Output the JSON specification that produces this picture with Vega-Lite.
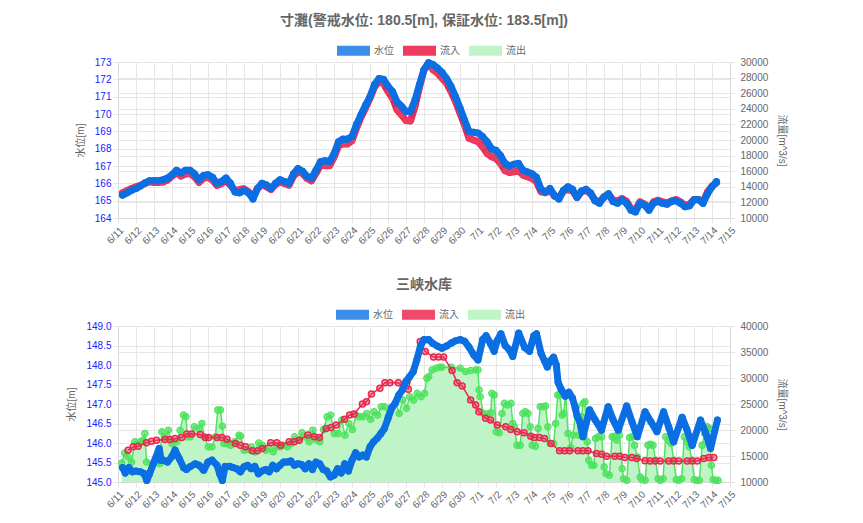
{
  "$schema": "https://vega.github.io/schema/vega-lite/v6.json",
  "padding": {"left": 66, "top": 13, "right": 5, "bottom": 5},
  "config": {
    "font": "Liberation Sans, Noto Sans CJK JP",
    "view": {"stroke": "#d9d9d9"},
    "title": {"fontSize": 14, "fontWeight": "bold", "color": "#666666", "offset": 5},
    "axis": {
      "labelFontSize": 10, "labelColor": "#666666",
      "titleFontSize": 10, "titleColor": "#666666", "titleFontWeight": "normal",
      "gridColor": "#e6e6e6", "domainColor": "#d9d9d9", "tickColor": "#e6e6e6", "tickSize": 5
    },
    "legend": {
      "orient": "none", "direction": "horizontal", "title": null,
      "symbolType": "M-1,-0.3H1V0.3H-1Z", "symbolSize": 1089, "symbolOpacity": 1,
      "labelFontSize": 10, "labelColor": "#666666", "labelOffset": 3, "columnPadding": 8,
      "legendY": -29
    }
  },
  "datasets": {
    "top_level": [
      {"t":0.25,"v":165.32},{"t":0.5,"v":165.45},{"t":0.75,"v":165.6},{"t":1,"v":165.7},{"t":1.25,"v":165.85},{"t":1.5,"v":166.03},{"t":1.75,"v":166.15},{"t":2,"v":166.15},{"t":2.25,"v":166.15},{"t":2.5,"v":166.2},{"t":2.75,"v":166.3},{"t":3,"v":166.5},{"t":3.25,"v":166.75},{"t":3.5,"v":166.6},{"t":3.75,"v":166.75},{"t":4,"v":166.75},{"t":4.25,"v":166.55},{"t":4.5,"v":166.2},{"t":4.75,"v":166.45},{"t":5,"v":166.5},{"t":5.25,"v":166.35},{"t":5.5,"v":166.0},{"t":5.75,"v":166.1},{"t":6,"v":166.3},{"t":6.25,"v":166.0},{"t":6.5,"v":165.5},{"t":6.75,"v":165.45},{"t":7,"v":165.6},{"t":7.25,"v":165.45},{"t":7.5,"v":165.1},{"t":7.75,"v":165.7},{"t":8,"v":166.0},{"t":8.25,"v":165.9},{"t":8.5,"v":165.7},{"t":8.75,"v":166.0},{"t":9,"v":166.2},{"t":9.25,"v":166.1},{"t":9.5,"v":166.0},{"t":9.75,"v":166.55},{"t":10,"v":166.85},{"t":10.25,"v":166.7},{"t":10.5,"v":166.4},{"t":10.75,"v":166.3},{"t":11,"v":166.75},{"t":11.25,"v":167.25},{"t":11.5,"v":167.3},{"t":11.75,"v":167.25},{"t":12,"v":167.7},{"t":12.25,"v":168.4},{"t":12.5,"v":168.55},{"t":12.75,"v":168.55},{"t":13,"v":168.7},{"t":13.25,"v":169.4},{"t":13.5,"v":169.95},{"t":13.75,"v":170.5},{"t":14,"v":171.0},{"t":14.25,"v":171.7},{"t":14.5,"v":172.05},{"t":14.75,"v":172.0},{"t":15,"v":171.6},{"t":15.25,"v":171.3},{"t":15.5,"v":170.7},{"t":15.75,"v":170.45},{"t":16,"v":170.15},{"t":16.25,"v":170.15},{"t":16.5,"v":170.8},{"t":16.75,"v":171.7},{"t":17,"v":172.55},{"t":17.25,"v":172.95},{"t":17.5,"v":172.85},{"t":17.75,"v":172.65},{"t":18,"v":172.4},{"t":18.25,"v":172.05},{"t":18.5,"v":171.6},{"t":18.75,"v":171.0},{"t":19,"v":170.35},{"t":19.25,"v":169.65},{"t":19.5,"v":169.0},{"t":19.75,"v":168.95},{"t":20,"v":168.9},{"t":20.25,"v":168.7},{"t":20.5,"v":168.4},{"t":20.75,"v":168.0},{"t":21,"v":167.9},{"t":21.25,"v":167.6},{"t":21.5,"v":167.15},{"t":21.75,"v":167.0},{"t":22,"v":167.1},{"t":22.25,"v":167.15},{"t":22.5,"v":166.75},{"t":22.75,"v":166.65},{"t":23,"v":166.55},{"t":23.25,"v":166.35},{"t":23.5,"v":165.65},{"t":23.75,"v":165.5},{"t":24,"v":165.7},{"t":24.25,"v":165.3},{"t":24.5,"v":165.1},{"t":24.75,"v":165.6},{"t":25,"v":165.8},{"t":25.25,"v":165.65},{"t":25.5,"v":165.2},{"t":25.75,"v":165.55},{"t":26,"v":165.65},{"t":26.25,"v":165.45},{"t":26.5,"v":165.0},{"t":26.75,"v":164.85},{"t":27,"v":165.2},{"t":27.25,"v":165.4},{"t":27.5,"v":164.95},{"t":27.75,"v":164.85},{"t":28,"v":165.05},{"t":28.25,"v":164.85},{"t":28.5,"v":164.45},{"t":28.75,"v":164.35},{"t":29,"v":164.85},{"t":29.25,"v":164.75},{"t":29.5,"v":164.45},{"t":29.75,"v":164.85},{"t":30,"v":164.95},{"t":30.25,"v":164.85},{"t":30.5,"v":164.8},{"t":30.75,"v":164.95},{"t":31,"v":165.0},{"t":31.25,"v":164.85},{"t":31.5,"v":164.65},{"t":31.75,"v":164.7},{"t":32,"v":165.05},{"t":32.25,"v":165.05},{"t":32.5,"v":164.85},{"t":32.75,"v":165.4},{"t":33,"v":165.8},{"t":33.25,"v":166.1}
    ],
    "top_in": [
      {"t":0.25,"q":13250},{"t":0.5,"q":13500},{"t":0.75,"q":13780},{"t":1,"q":14000},{"t":1.25,"q":14200},{"t":1.5,"q":14430},{"t":1.75,"q":14640},{"t":2,"q":14560},{"t":2.25,"q":14560},{"t":2.5,"q":14600},{"t":2.75,"q":14860},{"t":3,"q":15370},{"t":3.25,"q":15800},{"t":3.5,"q":15370},{"t":3.75,"q":15630},{"t":4,"q":15710},{"t":4.25,"q":15280},{"t":4.5,"q":14560},{"t":4.75,"q":15070},{"t":5,"q":15200},{"t":5.25,"q":14860},{"t":5.5,"q":14170},{"t":5.75,"q":14430},{"t":6,"q":14770},{"t":6.25,"q":14210},{"t":6.5,"q":13480},{"t":6.75,"q":13650},{"t":7,"q":13740},{"t":7.25,"q":13350},{"t":7.5,"q":12710},{"t":7.75,"q":13780},{"t":8,"q":14300},{"t":8.25,"q":14000},{"t":8.5,"q":13650},{"t":8.75,"q":14300},{"t":9,"q":14640},{"t":9.25,"q":14430},{"t":9.5,"q":14210},{"t":9.75,"q":15370},{"t":10,"q":15930},{"t":10.25,"q":15710},{"t":10.5,"q":15070},{"t":10.75,"q":14770},{"t":11,"q":15710},{"t":11.25,"q":16790},{"t":11.5,"q":16700},{"t":11.75,"q":16700},{"t":12,"q":17770},{"t":12.25,"q":19270},{"t":12.5,"q":19490},{"t":12.75,"q":19490},{"t":13,"q":19920},{"t":13.25,"q":21500},{"t":13.5,"q":22920},{"t":13.75,"q":24080},{"t":14,"q":25370},{"t":14.25,"q":26780},{"t":14.5,"q":27510},{"t":14.75,"q":27210},{"t":15,"q":26220},{"t":15.25,"q":25370},{"t":15.5,"q":23870},{"t":15.75,"q":23220},{"t":16,"q":22490},{"t":16.25,"q":22450},{"t":16.5,"q":24290},{"t":16.75,"q":26780},{"t":17,"q":29010},{"t":17.25,"q":29900},{"t":17.5,"q":29010},{"t":17.75,"q":28580},{"t":18,"q":27940},{"t":18.25,"q":27300},{"t":18.5,"q":26220},{"t":18.75,"q":24940},{"t":19,"q":23440},{"t":19.25,"q":21930},{"t":19.5,"q":20220},{"t":19.75,"q":20000},{"t":20,"q":19790},{"t":20.25,"q":19150},{"t":20.5,"q":18290},{"t":20.75,"q":17860},{"t":21,"q":17640},{"t":21.25,"q":17000},{"t":21.5,"q":16060},{"t":21.75,"q":15840},{"t":22,"q":15930},{"t":22.25,"q":16060},{"t":22.5,"q":15500},{"t":22.75,"q":15290},{"t":23,"q":15070},{"t":23.25,"q":14640},{"t":23.5,"q":13350},{"t":23.75,"q":13230},{"t":24,"q":13570},{"t":24.25,"q":12800},{"t":24.5,"q":12630},{"t":24.75,"q":13480},{"t":25,"q":13650},{"t":25.25,"q":13480},{"t":25.5,"q":12630},{"t":25.75,"q":13350},{"t":26,"q":13570},{"t":26.25,"q":13140},{"t":26.5,"q":12280},{"t":26.75,"q":12070},{"t":27,"q":12710},{"t":27.25,"q":13050},{"t":27.5,"q":12280},{"t":27.75,"q":12200},{"t":28,"q":12500},{"t":28.25,"q":12150},{"t":28.5,"q":11210},{"t":28.75,"q":11080},{"t":29,"q":12070},{"t":29.25,"q":11770},{"t":29.5,"q":11210},{"t":29.75,"q":12070},{"t":30,"q":12280},{"t":30.25,"q":12070},{"t":30.5,"q":11940},{"t":30.75,"q":12200},{"t":31,"q":12370},{"t":31.25,"q":12070},{"t":31.5,"q":11640},{"t":31.75,"q":11770},{"t":32,"q":12370},{"t":32.25,"q":12370},{"t":32.5,"q":12070},{"t":32.75,"q":13350},{"t":33,"q":14080},{"t":33.25,"q":14510}
    ],
    "bot_level": [
      {"t":0.25,"v":145.37},{"t":0.4,"v":145.23},{"t":0.6,"v":145.37},{"t":0.8,"v":145.26},{"t":1.0,"v":145.28},{"t":1.25,"v":145.26},{"t":1.45,"v":145.22},{"t":1.6,"v":145.04},{"t":1.75,"v":145.21},{"t":2.0,"v":145.51},{"t":2.29,"v":145.86},{"t":2.4,"v":145.55},{"t":2.52,"v":145.56},{"t":2.75,"v":145.51},{"t":3.0,"v":145.66},{"t":3.17,"v":145.82},{"t":3.4,"v":145.6},{"t":3.64,"v":145.37},{"t":3.8,"v":145.32},{"t":4.0,"v":145.39},{"t":4.29,"v":145.47},{"t":4.5,"v":145.43},{"t":4.76,"v":145.3},{"t":5.0,"v":145.51},{"t":5.22,"v":145.56},{"t":5.5,"v":145.43},{"t":5.65,"v":145.21},{"t":5.8,"v":145.04},{"t":5.95,"v":145.4},{"t":6.2,"v":145.4},{"t":6.4,"v":145.37},{"t":6.6,"v":145.34},{"t":6.8,"v":145.26},{"t":7.0,"v":145.39},{"t":7.2,"v":145.43},{"t":7.4,"v":145.34},{"t":7.6,"v":145.4},{"t":7.8,"v":145.21},{"t":8.0,"v":145.28},{"t":8.2,"v":145.32},{"t":8.4,"v":145.26},{"t":8.6,"v":145.43},{"t":8.8,"v":145.34},{"t":9.0,"v":145.43},{"t":9.2,"v":145.51},{"t":9.4,"v":145.51},{"t":9.6,"v":145.54},{"t":9.8,"v":145.43},{"t":10.0,"v":145.47},{"t":10.2,"v":145.45},{"t":10.4,"v":145.34},{"t":10.6,"v":145.47},{"t":10.8,"v":145.32},{"t":11.0,"v":145.51},{"t":11.2,"v":145.47},{"t":11.4,"v":145.32},{"t":11.6,"v":145.28},{"t":11.8,"v":145.13},{"t":12.0,"v":145.17},{"t":12.2,"v":145.34},{"t":12.4,"v":145.23},{"t":12.6,"v":145.47},{"t":12.8,"v":145.28},{"t":13.0,"v":145.56},{"t":13.2,"v":145.75},{"t":13.4,"v":145.64},{"t":13.6,"v":145.69},{"t":13.8,"v":145.64},{"t":14.0,"v":145.9},{"t":14.2,"v":146.03},{"t":14.4,"v":146.12},{"t":14.6,"v":146.24},{"t":14.8,"v":146.37},{"t":15.0,"v":146.63},{"t":15.2,"v":146.89},{"t":15.4,"v":147.02},{"t":15.6,"v":147.23},{"t":15.8,"v":147.36},{"t":16.0,"v":147.58},{"t":16.2,"v":147.7},{"t":16.4,"v":147.83},{"t":16.6,"v":148.13},{"t":16.8,"v":148.48},{"t":17.0,"v":148.65},{"t":17.26,"v":148.65},{"t":17.5,"v":148.55},{"t":17.76,"v":148.48},{"t":18.0,"v":148.43},{"t":18.27,"v":148.49},{"t":18.51,"v":148.56},{"t":18.75,"v":148.62},{"t":19.01,"v":148.65},{"t":19.26,"v":148.61},{"t":19.5,"v":148.46},{"t":19.76,"v":148.26},{"t":20.0,"v":148.13},{"t":20.26,"v":148.65},{"t":20.45,"v":148.75},{"t":20.68,"v":148.56},{"t":20.9,"v":148.35},{"t":21.05,"v":148.61},{"t":21.27,"v":148.8},{"t":21.51,"v":148.5},{"t":21.72,"v":148.4},{"t":21.93,"v":148.22},{"t":22.26,"v":148.82},{"t":22.59,"v":148.45},{"t":22.86,"v":148.35},{"t":23.1,"v":148.75},{"t":23.25,"v":148.8},{"t":23.5,"v":148.3},{"t":23.7,"v":148.1},{"t":23.85,"v":147.95},{"t":24.0,"v":148.1},{"t":24.2,"v":148.2},{"t":24.35,"v":148.0},{"t":24.45,"v":147.55},{"t":24.62,"v":147.38},{"t":24.85,"v":147.2},{"t":25.05,"v":147.3},{"t":25.25,"v":147.15},{"t":25.4,"v":146.9},{"t":25.5,"v":146.7},{"t":25.65,"v":146.55},{"t":25.83,"v":146.16},{"t":26.2,"v":146.85},{"t":26.5,"v":146.6},{"t":26.86,"v":146.33},{"t":27.23,"v":146.93},{"t":27.5,"v":146.6},{"t":27.79,"v":146.33},{"t":28.26,"v":146.95},{"t":28.55,"v":146.55},{"t":28.85,"v":146.16},{"t":29.28,"v":146.8},{"t":29.6,"v":146.55},{"t":29.94,"v":146.29},{"t":30.31,"v":146.8},{"t":30.6,"v":146.4},{"t":30.87,"v":146.03},{"t":31.34,"v":146.66},{"t":31.6,"v":146.35},{"t":31.9,"v":145.94},{"t":32.36,"v":146.59},{"t":32.65,"v":146.25},{"t":32.92,"v":145.86},{"t":33.3,"v":146.59}
    ],
    "bot_in": [
      {"t":0.56,"q":16120},{"t":0.84,"q":16760},{"t":1.12,"q":16890},{"t":1.58,"q":17530},{"t":1.86,"q":17860},{"t":2.14,"q":18050},{"t":2.61,"q":18180},{"t":2.89,"q":18180},{"t":3.17,"q":18380},{"t":3.54,"q":18570},{"t":3.82,"q":19210},{"t":4.1,"q":19210},{"t":4.57,"q":19150},{"t":4.85,"q":18570},{"t":5.04,"q":18570},{"t":5.5,"q":18570},{"t":5.78,"q":18570},{"t":6.06,"q":18240},{"t":6.52,"q":17410},{"t":6.8,"q":17090},{"t":7.08,"q":16760},{"t":7.46,"q":15990},{"t":7.74,"q":15990},{"t":8.02,"q":16440},{"t":8.48,"q":17530},{"t":8.82,"q":17530},{"t":9.04,"q":17090},{"t":9.51,"q":17720},{"t":9.79,"q":17720},{"t":10.07,"q":18050},{"t":10.54,"q":19020},{"t":10.91,"q":18690},{"t":11.19,"q":18570},{"t":11.56,"q":20310},{"t":11.84,"q":20500},{"t":12.12,"q":20950},{"t":12.59,"q":22050},{"t":12.87,"q":22880},{"t":13.11,"q":23070},{"t":13.58,"q":25000},{"t":13.8,"q":25450},{"t":14.08,"q":26930},{"t":14.55,"q":28030},{"t":14.83,"q":29110},{"t":15.11,"q":29110},{"t":15.57,"q":29110},{"t":15.85,"q":28340},{"t":16.13,"q":27840},{"t":16.79,"q":37030},{"t":17.07,"q":35100},{"t":17.53,"q":34020},{"t":17.81,"q":34020},{"t":18.09,"q":34020},{"t":18.56,"q":31430},{"t":18.84,"q":29110},{"t":19.12,"q":28470},{"t":19.59,"q":25770},{"t":19.87,"q":24810},{"t":20.05,"q":23510},{"t":20.42,"q":22240},{"t":20.7,"q":21910},{"t":21.07,"q":20950},{"t":21.54,"q":20620},{"t":21.82,"q":20110},{"t":22.18,"q":19650},{"t":22.56,"q":19460},{"t":22.93,"q":18820},{"t":23.13,"q":18570},{"t":23.41,"q":18570},{"t":23.69,"q":18380},{"t":24.06,"q":17410},{"t":24.53,"q":16000},{"t":24.81,"q":16000},{"t":25.09,"q":16000},{"t":25.55,"q":16000},{"t":25.83,"q":16000},{"t":26.11,"q":16000},{"t":26.58,"q":15480},{"t":26.86,"q":15350},{"t":27.14,"q":14960},{"t":27.6,"q":14960},{"t":27.88,"q":14960},{"t":28.16,"q":14710},{"t":28.54,"q":14710},{"t":28.82,"q":14520},{"t":29.28,"q":14100},{"t":29.56,"q":14050},{"t":29.84,"q":14050},{"t":30.12,"q":14050},{"t":30.59,"q":14050},{"t":30.87,"q":14050},{"t":31.15,"q":14050},{"t":31.62,"q":14050},{"t":31.9,"q":14050},{"t":32.18,"q":14050},{"t":32.55,"q":14520},{"t":32.83,"q":14710},{"t":33.1,"q":14710}
    ],
    "bot_out": [
      {"t":0.21,"q":13660},{"t":0.37,"q":15590},{"t":0.56,"q":14820},{"t":0.75,"q":13850},{"t":0.93,"q":17720},{"t":1.21,"q":17720},{"t":1.4,"q":18040},{"t":1.49,"q":19330},{"t":1.59,"q":13850},{"t":2.01,"q":13530},{"t":2.33,"q":13530},{"t":2.43,"q":19650},{"t":2.61,"q":18680},{"t":2.8,"q":19970},{"t":2.99,"q":17400},{"t":3.26,"q":17720},{"t":3.45,"q":19970},{"t":3.64,"q":22870},{"t":3.77,"q":22550},{"t":3.86,"q":18680},{"t":4.01,"q":18680},{"t":4.24,"q":20610},{"t":4.48,"q":20290},{"t":4.66,"q":21260},{"t":4.81,"q":18680},{"t":5.02,"q":16750},{"t":5.22,"q":16750},{"t":5.41,"q":18680},{"t":5.54,"q":23840},{"t":5.69,"q":23840},{"t":5.8,"q":20740},{"t":5.88,"q":17400},{"t":6.06,"q":17400},{"t":6.25,"q":17070},{"t":6.49,"q":17720},{"t":6.72,"q":19010},{"t":6.81,"q":18810},{"t":7.01,"q":16110},{"t":7.22,"q":16240},{"t":7.41,"q":16750},{"t":7.61,"q":15790},{"t":7.82,"q":17520},{"t":8.02,"q":17070},{"t":8.21,"q":16110},{"t":8.41,"q":16430},{"t":8.62,"q":15790},{"t":8.82,"q":16750},{"t":9.01,"q":16750},{"t":9.22,"q":17070},{"t":9.42,"q":16750},{"t":9.61,"q":17400},{"t":9.81,"q":18680},{"t":10.02,"q":18040},{"t":10.22,"q":19460},{"t":10.41,"q":18680},{"t":10.62,"q":17720},{"t":10.82,"q":19970},{"t":11.03,"q":18040},{"t":11.21,"q":17720},{"t":11.42,"q":20100},{"t":11.62,"q":22550},{"t":11.81,"q":22870},{"t":12.01,"q":19330},{"t":12.22,"q":19330},{"t":12.43,"q":21900},{"t":12.61,"q":19010},{"t":12.82,"q":21260},{"t":13.02,"q":20100},{"t":13.23,"q":22870},{"t":13.41,"q":22550},{"t":13.62,"q":22550},{"t":13.82,"q":23190},{"t":14.03,"q":22030},{"t":14.22,"q":23510},{"t":14.42,"q":22870},{"t":14.63,"q":24480},{"t":14.81,"q":24480},{"t":15.02,"q":22680},{"t":15.22,"q":24480},{"t":15.43,"q":25120},{"t":15.62,"q":23190},{"t":15.82,"q":25770},{"t":16.03,"q":24160},{"t":16.21,"q":26410},{"t":16.42,"q":25770},{"t":16.62,"q":27060},{"t":16.83,"q":26410},{"t":17.03,"q":27060},{"t":17.16,"q":29950},{"t":17.26,"q":30270},{"t":17.45,"q":31560},{"t":17.67,"q":31890},{"t":17.86,"q":32080},{"t":18.0,"q":32080},{"t":18.51,"q":32080},{"t":19.01,"q":31890},{"t":19.31,"q":31240},{"t":19.59,"q":31430},{"t":19.87,"q":31560},{"t":20.0,"q":31560},{"t":20.06,"q":27700},{"t":20.12,"q":26410},{"t":20.3,"q":23190},{"t":20.51,"q":23060},{"t":20.71,"q":23320},{"t":20.77,"q":27060},{"t":20.9,"q":26730},{"t":21.01,"q":19650},{"t":21.18,"q":19460},{"t":21.33,"q":23190},{"t":21.46,"q":25120},{"t":21.63,"q":24800},{"t":21.83,"q":25120},{"t":21.93,"q":21260},{"t":22.02,"q":20610},{"t":22.17,"q":17070},{"t":22.34,"q":17070},{"t":22.49,"q":23190},{"t":22.63,"q":23510},{"t":22.78,"q":23190},{"t":22.9,"q":20610},{"t":23.01,"q":17070},{"t":23.19,"q":16880},{"t":23.34,"q":20290},{"t":23.46,"q":24480},{"t":23.6,"q":24480},{"t":23.75,"q":24610},{"t":23.88,"q":20610},{"t":24.01,"q":17400},{"t":24.2,"q":17400},{"t":24.31,"q":21260},{"t":24.43,"q":26730},{"t":24.54,"q":26730},{"t":24.67,"q":22870},{"t":24.76,"q":23190},{"t":24.87,"q":27060},{"t":25.0,"q":19330},{"t":25.15,"q":16620},{"t":25.28,"q":19010},{"t":25.47,"q":24480},{"t":25.6,"q":19010},{"t":25.75,"q":22550},{"t":25.84,"q":25120},{"t":25.94,"q":25450},{"t":26.07,"q":17720},{"t":26.16,"q":14180},{"t":26.31,"q":13210},{"t":26.44,"q":13210},{"t":26.53,"q":18360},{"t":26.68,"q":18680},{"t":26.87,"q":18680},{"t":27.01,"q":12890},{"t":27.11,"q":11600},{"t":27.3,"q":11280},{"t":27.45,"q":18680},{"t":27.58,"q":18810},{"t":27.71,"q":18040},{"t":27.86,"q":19010},{"t":28.01,"q":12570},{"t":28.09,"q":10640},{"t":28.27,"q":10320},{"t":28.42,"q":18550},{"t":28.55,"q":18680},{"t":28.7,"q":17070},{"t":28.85,"q":14820},{"t":29.01,"q":10960},{"t":29.11,"q":10450},{"t":29.29,"q":10320},{"t":29.44,"q":17070},{"t":29.57,"q":17270},{"t":29.72,"q":17070},{"t":29.87,"q":14180},{"t":30.0,"q":10640},{"t":30.13,"q":10320},{"t":30.28,"q":10640},{"t":30.43,"q":18680},{"t":30.56,"q":18040},{"t":30.73,"q":17400},{"t":30.88,"q":14180},{"t":31.01,"q":10450},{"t":31.16,"q":10320},{"t":31.31,"q":10640},{"t":31.46,"q":18680},{"t":31.59,"q":17720},{"t":31.74,"q":16750},{"t":31.89,"q":14180},{"t":32.02,"q":10450},{"t":32.15,"q":10320},{"t":32.3,"q":10320},{"t":32.45,"q":17070},{"t":32.6,"q":19330},{"t":32.74,"q":20610},{"t":32.85,"q":20290},{"t":32.97,"q":13210},{"t":33.06,"q":10450},{"t":33.21,"q":10320},{"t":33.34,"q":10320}
    ]
  },
  "vconcat": [
    {
      "title": "寸灘(警戒水位: 180.5[m], 保証水位: 183.5[m])",
      "width": 612,
      "height": 156,
      "encoding": {
        "x": {
          "field": "t", "type": "quantitative",
          "scale": {"domain": [0, 34], "nice": false},
          "axis": {
            "title": null, "values": [0,1,2,3,4,5,6,7,8,9,10,11,12,13,14,15,16,17,18,19,20,21,22,23,24,25,26,27,28,29,30,31,32,33,34],
            "labelExpr": "datum.value < 20 ? '6/' + (datum.value + 11) : '7/' + (datum.value - 19)",
            "labelAngle": -45, "labelOverlap": false, "labelPadding": 2, "grid": true
          }
        }
      },
      "layer": [
        {
          "encoding": {
            "y": {
              "field": "q", "type": "quantitative",
              "scale": {"domain": [10000, 30000], "nice": false},
              "axis": {"orient": "right", "title": "流量[m^3/s]", "values": [10000,12000,14000,16000,18000,20000,22000,24000,26000,28000,30000], "format": "d", "labelPadding": 5, "titlePadding": 9, "grid": true}
            }
          },
          "layer": [
            {"data": {"name": "top_in"}, "mark": {"type": "line", "color": "#e8294f", "strokeWidth": 7, "strokeJoin": "round", "strokeCap": "round"}},
            {
              "data": {"name": "top_in"},
              "mark": {"type": "point", "filled": true, "size": 45, "opacity": 1},
              "encoding": {
                "color": {
                  "datum": "流入", "type": "nominal",
                  "scale": {"domain": ["水位", "流入", "流出"], "range": ["#3a8ee8", "#ec3b5f", "#bff5c6"]},
                  "legend": {"legendX": 218}
                }
              }
            }
          ]
        },
        {
          "encoding": {
            "y": {
              "field": "v", "type": "quantitative",
              "scale": {"domain": [164, 173], "nice": false},
              "axis": {"orient": "left", "title": "水位[m]", "values": [164,165,166,167,168,169,170,171,172,173], "labelColor": "#2020ff", "labelPadding": 2, "titlePadding": 9, "grid": true}
            }
          },
          "layer": [
            {"data": {"name": "top_level"}, "mark": {"type": "line", "color": "#0b6fe3", "strokeWidth": 7, "strokeJoin": "round", "strokeCap": "round"}},
            {"data": {"name": "top_level"}, "mark": {"type": "point", "filled": true, "size": 50, "opacity": 1, "color": "#0b6fe3"}}
          ]
        }
      ],
      "resolve": {"scale": {"y": "independent"}}
    },
    {
      "title": "三峡水库",
      "width": 612,
      "height": 156,
      "encoding": {
        "x": {
          "field": "t", "type": "quantitative",
          "scale": {"domain": [0, 34], "nice": false},
          "axis": {
            "title": null, "values": [0,1,2,3,4,5,6,7,8,9,10,11,12,13,14,15,16,17,18,19,20,21,22,23,24,25,26,27,28,29,30,31,32,33,34],
            "labelExpr": "datum.value < 20 ? '6/' + (datum.value + 11) : '7/' + (datum.value - 19)",
            "labelAngle": -45, "labelOverlap": false, "labelPadding": 2, "grid": true
          }
        }
      },
      "layer": [
        {
          "encoding": {
            "y": {
              "field": "q", "type": "quantitative",
              "scale": {"domain": [10000, 40000], "nice": false},
              "axis": {"orient": "right", "title": "流量[m^3/s]", "values": [10000,15000,20000,25000,30000,35000,40000], "format": "d", "labelPadding": 5, "titlePadding": 9, "grid": true}
            }
          },
          "layer": [
            {
              "data": {"name": "bot_out"},
              "mark": {"type": "area", "opacity": 1},
              "encoding": {
                "y2": {"datum": 10000},
                "color": {
                  "datum": "流出", "type": "nominal",
                  "scale": {"domain": ["水位", "流入", "流出"], "range": ["#3a8ee8", "#ef4a6b", "#bff5c6"]},
                  "legend": {"legendX": 217}
                }
              }
            },
            {"data": {"name": "bot_out"}, "mark": {"type": "line", "color": "#52e262", "strokeWidth": 1.5}},
            {"data": {"name": "bot_out"}, "mark": {"type": "point", "filled": true, "size": 40, "color": "#47e258", "fillOpacity": 0.7, "stroke": "#52e262", "strokeWidth": 1.2}},
            {"data": {"name": "bot_in"}, "mark": {"type": "line", "color": "#e8294f", "strokeWidth": 1.5}},
            {"data": {"name": "bot_in"}, "mark": {"type": "point", "filled": true, "size": 36, "color": "#e8294f", "fillOpacity": 0.4, "stroke": "#e8294f", "strokeWidth": 1.5}}
          ]
        },
        {
          "encoding": {
            "y": {
              "field": "v", "type": "quantitative",
              "scale": {"domain": [145, 149], "nice": false},
              "axis": {"orient": "left", "title": "水位[m]", "values": [145,145.5,146,146.5,147,147.5,148,148.5,149], "format": ".1f", "labelColor": "#2020ff", "labelPadding": 2, "titlePadding": 9, "grid": true}
            }
          },
          "layer": [
            {"data": {"name": "bot_level"}, "mark": {"type": "line", "color": "#0b6fe3", "strokeWidth": 7, "strokeJoin": "round", "strokeCap": "round"}},
            {"data": {"name": "bot_level"}, "mark": {"type": "point", "filled": true, "size": 50, "opacity": 1, "color": "#0b6fe3"}}
          ]
        }
      ],
      "resolve": {"scale": {"y": "independent"}}
    }
  ],
  "spacing": 30,
  "resolve": {"scale": {"color": "independent"}, "legend": {"color": "independent"}}
}
